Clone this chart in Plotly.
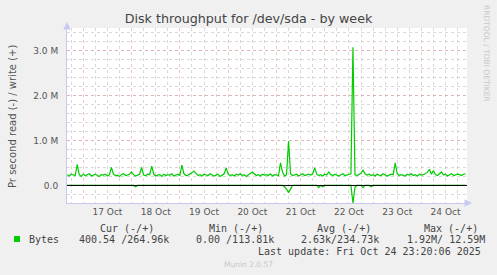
import plotly.graph_objects as go
import pandas as pd

# ---- data (values in thousands of bytes per second), hourly from 2025-10-16 16:00 ----
start_time = "2025-10-16 16:00"
write_k = [
    240, 210, 250, 230, 220, 470, 240, 200, 250, 220, 240, 260, 210, 230, 250, 220, 200, 240, 230, 250,
    210, 240, 400, 250, 220, 230, 200, 240, 260, 220, 230, 250, 300, 240, 210, 230, 250, 400, 230, 220,
    250, 240, 430, 250, 210, 230, 240, 200, 250, 220, 240, 230, 260, 210, 230, 250, 220, 450, 260, 220,
    230, 250, 280, 320, 260, 220, 240, 210, 250, 230, 220, 260, 240, 210, 230, 250, 200, 240, 260, 390,
    250, 220, 240, 210, 250, 230, 260, 220, 240, 200, 230, 250, 300, 260, 220, 240, 210, 250, 230, 240,
    220, 260, 210, 240, 230, 220, 500, 300, 210, 240, 990, 260, 220, 240, 250, 210, 230, 260, 220, 240,
    250, 230, 260, 390, 250, 220, 240, 210, 250, 230, 300, 240, 220, 250, 230, 210, 240, 260, 220, 230,
    250, 260, 3070, 240, 220, 250, 270, 340, 260, 230, 250, 220, 240, 210, 250, 230, 220, 260, 240, 210,
    230, 250, 240, 500, 260, 220, 240, 230, 210, 250, 230, 260, 220, 240, 210, 250, 230, 240, 260, 290,
    360, 250, 330, 240, 220, 250, 300, 230, 250, 210, 240, 260, 220, 230, 250, 240, 220, 250, 260,
]
# read values (plotted negative), zero except listed hours
read_k_nonzero = {34: 30, 108: 30, 109: 80, 110: 160, 111: 60, 125: 50, 127: 30,
                  142: 390, 143: 40, 147: 50, 151: 30}
read_k = [read_k_nonzero.get(i, 0) for i in range(len(write_k))]

x_range = ["2025-10-16 15:55", "2025-10-24 22:40"]
y_range = [-390000, 3500000]
y_tickvals = [0, 1000000, 2000000, 3000000]
y_ticktext = ["0.0", "1.0 M", "2.0 M", "3.0 M"]

title = "Disk throughput for /dev/sda - by week"
y_title = "Pr second read (-) / write (+)"
legend_header = ["Cur (-/+)", "Min (-/+)", "Avg (-/+)", "Max (-/+)"]
legend_values = ["400.54 /264.96k", "0.00 /113.81k", "2.63k/234.73k", "1.92M/ 12.59M"]
series_name = "Bytes"
last_update = "Last update: Fri Oct 24 23:20:06 2025"
footer = "Munin 2.0.57"
side_text = "RRDTOOL / TOBI OETIKER"

times = pd.date_range(start_time, periods=len(write_k), freq="h")
write = [v * 1000 for v in write_k]
read = [-v * 1000 for v in read_k]

GREEN = "#00cc00"
MAJOR = "rgba(225,150,150,0.55)"
MINOR = "rgba(190,190,190,0.6)"
fig = go.Figure()
fig.add_trace(go.Scatter(x=times, y=read, mode="lines", line=dict(color=GREEN, width=1.2), hoverinfo="skip"))
fig.add_trace(go.Scatter(x=times, y=write, mode="lines", line=dict(color=GREEN, width=1.2), hoverinfo="skip"))

W, H = 497, 275
L, R, T, B = 67, 467, 28, 203


def px(xp):
    return (xp - L) / (R - L)


def py(yp):
    return (B - yp) / (B - T)


fig.update_layout(
    width=W, height=H,
    margin=dict(l=L, r=W - R, t=T, b=H - B, pad=0),
    paper_bgcolor="#f0f0f0", plot_bgcolor="#ffffff",
    showlegend=False,
    font=dict(family="DejaVu Sans", size=9, color="#555555"),
    title=dict(text=title, x=0.5, xanchor="center", y=1 - 19 / H, yanchor="middle",
               font=dict(family="DejaVu Sans", size=12.7, color="#444444")),
)
fig.update_xaxes(
    type="date", range=x_range,
    tick0="2025-10-17", dtick=86400000, tickformat="%d %b", ticklabelmode="period",
    showgrid=True, gridcolor=MAJOR, griddash="dot", gridwidth=1,
    minor=dict(dtick=6 * 3600000, tick0="2025-10-17", showgrid=True,
               gridcolor=MINOR, griddash="dot", gridwidth=1),
    showline=True, linecolor="#c8c8f0", linewidth=1,
    ticks="", tickfont=dict(size=9, color="#555555"), ticklen=0,
    zeroline=False, fixedrange=True,
)
fig.update_yaxes(
    range=y_range, tickvals=y_tickvals, ticktext=y_ticktext,
    showgrid=True, gridcolor=MAJOR, griddash="dot", gridwidth=1,
    minor=dict(dtick=200000, tick0=0, showgrid=True, gridcolor=MINOR, griddash="dot", gridwidth=1),
    showline=True, linecolor="#c8c8f0", linewidth=1,
    ticks="", ticklabelstandoff=6, tickfont=dict(size=9, color="#555555"),
    zeroline=False, fixedrange=True,
)
# zero line on top of traces
fig.add_shape(type="line", xref="paper", x0=0, x1=1, yref="y", y0=0, y1=0,
              line=dict(color="#000000", width=1), layer="above")

ann = []
# axis arrows
ann.append(dict(xref="paper", yref="paper", x=px(472), y=0, ax=-6, ay=0, axref="pixel", ayref="pixel",
                showarrow=True, arrowhead=2, arrowsize=1, arrowwidth=1.5, arrowcolor="#c8c8f0", text=""))
ann.append(dict(xref="paper", yref="paper", x=0, y=py(22), ax=0, ay=6, axref="pixel", ayref="pixel",
                showarrow=True, arrowhead=2, arrowsize=1, arrowwidth=1.5, arrowcolor="#c8c8f0", text=""))
# y title
ann.append(dict(xref="paper", yref="paper", x=px(12), y=py(116), text=y_title, textangle=-90,
                showarrow=False, xanchor="center", yanchor="middle",
                font=dict(family="DejaVu Sans", size=10, color="#555555")))
# side text
ann.append(dict(xref="paper", yref="paper", x=px(487), y=py(53), text=side_text, textangle=90,
                showarrow=False, xanchor="center", yanchor="middle",
                font=dict(family="DejaVu Sans", size=7.5, color="#c8c8c8")))
MONO = "DejaVu Sans Mono"
header_x = [98, 206.5, 315, 422]
value_x = [77.3, 194, 299, 405]
for hx, t in zip(header_x, legend_header):
    ann.append(dict(xref="paper", yref="paper", x=px(hx), y=py(228), text=t, showarrow=False,
                    xanchor="left", yanchor="middle", font=dict(family=MONO, size=10, color="#444444")))
for vx, t in zip(value_x, legend_values):
    ann.append(dict(xref="paper", yref="paper", x=px(vx), y=py(239.5), text=t, showarrow=False,
                    xanchor="left", yanchor="middle", font=dict(family=MONO, size=10, color="#444444")))
ann.append(dict(xref="paper", yref="paper", x=px(26.5), y=py(239.5), text=series_name, showarrow=False,
                xanchor="left", yanchor="middle", font=dict(family=MONO, size=10, color="#444444")))
ann.append(dict(xref="paper", yref="paper", x=px(482.5), y=py(251), text=last_update, showarrow=False,
                xanchor="right", yanchor="middle", font=dict(family=MONO, size=10, color="#444444")))
ann.append(dict(xref="paper", yref="paper", x=px(248), y=py(264.5), text=footer, showarrow=False,
                xanchor="center", yanchor="middle", font=dict(family="DejaVu Sans", size=7.5, color="#c8c8c8")))
fig.update_layout(annotations=ann)
# legend colour swatch
fig.add_shape(type="rect", xref="paper", yref="paper", x0=px(14), x1=px(20), y0=py(242), y1=py(236),
              fillcolor=GREEN, line=dict(width=0), layer="above")

fig.write_html("out.html")
